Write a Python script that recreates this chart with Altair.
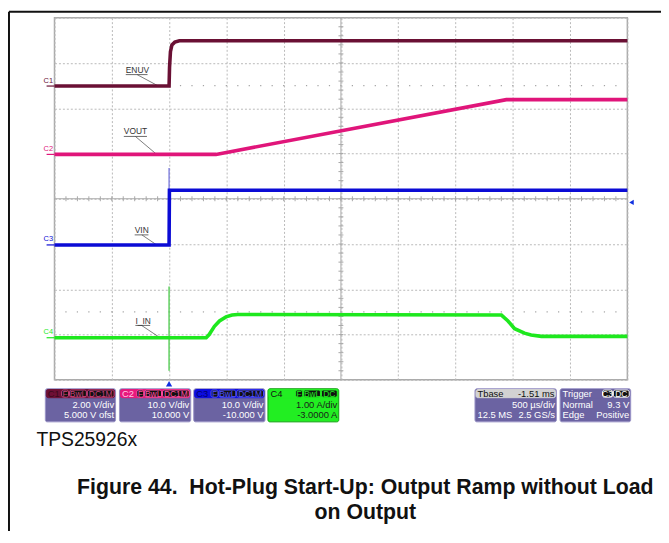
import altair as alt
import pandas as pd
import numpy as np

# ---------------- trace data: time in ms from trigger, level in divisions ----------------
enuv_t = [-1.0, 0.0, 0.004, 0.012, 0.025, 0.05, 0.09, 4.0]
enuv_v = [2.49, 2.49, 2.90, 3.25, 3.40, 3.46, 3.49, 3.49]

vout_t = [-1.0, 0.41, 2.944, 4.0]
vout_v = [0.98, 0.98, 2.19, 2.19]

vin_t = [-1.0, 0.0, 0.003, 4.0]
vin_v = [-1.02, -1.02, 0.19, 0.19]

iin_t = [-1.0, 0.324, 0.35, 0.396, 0.44, 0.497, 0.55, 0.60, 2.901, 2.958, 3.016, 3.102, 3.160, 3.25, 4.0]
iin_v = [-3.07, -3.07, -3.00, -2.82, -2.70, -2.61, -2.57, -2.557, -2.57, -2.70, -2.87, -2.97, -3.01, -3.04, -3.04]

series_names = ["ENUV", "VOUT", "VIN", "I_IN"]
series_colors = ["#6a1034", "#e0157a", "#0b0bd5", "#1ee81e"]

# channel reference levels (divisions) and labels
marker_names = ["C1", "C2", "C3", "C4"]
marker_levels = [2.49, 0.98, -1.02, -3.07]

# grid values
x_grid = [-1.0, -0.5, 0.0, 0.5, 1.0, 1.5, 2.0, 2.5, 3.0, 3.5, 4.0]
y_grid = [-4, -3, -2, -1, 0, 1, 2, 3, 4]

# info boxes
box_names = ["C1", "C2", "C3", "C4", "Tbase", "Trigger"]
box_left = [-1.080, -0.433, 0.215, 0.863, 2.670, 3.413]
box_right = [-0.467, 0.189, 0.837, 1.481, 3.381, 4.029]
box_body = ["#6b63a2", "#6b63a2", "#6b63a2", "#22ee22", "#6b63a2", "#6b63a2"]
box_edge = ["#9a94c6", "#9a94c6", "#9a94c6", "#11a011", "#9a94c6", "#9a94c6"]
box_head = ["#6e0f35", "#e8197d", "#0c0ce0", "#22ee22", "#d2d2d2", "#6b63a2"]
box_head_text = ["#3a0a1c", "#ffc6e2", "#00006e", "#111111", "#111111", "#ffffff"]
box_head_right = ["", "", "", "", "-1.51 ms", ""]
box_badges = [["F", "BwL", "DC1M"], ["F", "BwL", "DC1M"], ["F", "BwL", "DC1M"],
              ["F", "BwL", "DC"], [], ["C3", "DC"]]
badge_text_col = ["#c8407a", "#ff4fa2", "#5050ff", "#22ee22", "#ffffff", "#ffffff"]
box_l1_left = ["", "", "", "", "", "Normal"]
box_l1_right = ["2.00 V/div", "10.0 V/div", "10.0 V/div", "1.00 A/div", "500 µs/div", "9.3 V"]
box_l2_left = ["", "", "", "", "12.5 MS", "Edge"]
box_l2_right = ["5.000 V ofst", "10.000 V", "-10.000 V", "-3.0000 A", "2.5 GS/s", "Positive"]
box_text_col = ["#ffffff", "#ffffff", "#ffffff", "#1a1a1a", "#ffffff", "#ffffff"]
badge_width_px = {"F": 7, "BwL": 17, "DC1M": 27, "DC": 16, "C3": 10}

FONT = "Liberation Sans, Arial, sans-serif"
PX = 0.5 / 57.9      # one pixel in ms
PY = 1 / 45.75       # one pixel in divisions

BOX_TOP, BOX_BOT = -4.197, -4.929
HDR_TOP, HDR_BOT = -4.215, -4.395
ROW_H, ROW_1, ROW_2 = -4.305, -4.557, -4.787

XS = alt.Scale(domain=[-1, 4], nice=False, zero=False)
YS = alt.Scale(domain=[-4, 4], nice=False, zero=False)
XAX = alt.Axis(values=x_grid, grid=True, gridDash=[2, 2], gridColor="#b9b9b9", gridWidth=1,
               labels=False, ticks=False, domain=False, title=None)
YAX = alt.Axis(values=y_grid, grid=True, gridDash=[2, 2], gridColor="#b9b9b9", gridWidth=1,
               labels=False, ticks=False, domain=False, title=None)


def X(f="t"):
    return alt.X(f"{f}:Q", scale=XS, axis=XAX)


def Y(f="v"):
    return alt.Y(f"{f}:Q", scale=YS, axis=YAX)


# ---------------- build tables ----------------
rows = []
for name, ts, vs in zip(series_names, [enuv_t, vout_t, vin_t, iin_t], [enuv_v, vout_v, vin_v, iin_v]):
    for i, (t, v) in enumerate(zip(ts, vs)):
        rows.append({"series": name, "t": t, "v": v, "i": i})
traces = pd.DataFrame(rows)

# rules: (t, t2, v, v2, col, w)
rules = []
# center graticule lines
rules.append(dict(t=1.5, t2=1.5, v=-4, v2=4, col="#a8a8a8", w=1))
rules.append(dict(t=-1, t2=4, v=0, v2=0, col="#a8a8a8", w=1))
for tt in np.arange(-0.9, 4.0, 0.1):
    rules.append(dict(t=tt, t2=tt, v=-2.5 * PY, v2=2.5 * PY, col="#a8a8a8", w=1))
for vv in np.arange(-3.8, 4.0, 0.2):
    rules.append(dict(t=1.5 - 2.5 * PX, t2=1.5 + 2.5 * PX, v=vv, v2=vv, col="#a8a8a8", w=1))
# trigger spikes
rules.append(dict(t=0.0, t2=0.0, v=0.68, v2=-1.02, col="#6a6ad8", w=1.2))
rules.append(dict(t=0.0, t2=0.0, v=-1.94, v2=-3.80, col="#5fcf5f", w=1.5))
# channel markers
for lvl, col in zip(marker_levels, series_colors):
    rules.append(dict(t=-1 - 8 * PX, t2=-1.0, v=lvl, v2=lvl, col=col, w=1.2))
# label underlines and leaders
lab_col = "#444444"
label_geo = [  # text, text_t, text_v, under_t0, under_t1, under_v, lead_t0, lead_t1, lead_v1
    ("ENUV", -0.378, 2.835, -0.378, -0.188, 2.743, -0.279, -0.093, 2.49),
    ("VOUT", -0.395, 1.486, -0.395, -0.193, 1.377, -0.294, -0.108, 0.98),
    ("VIN", -0.300, -0.700, -0.300, -0.180, -0.798, -0.237, -0.108, -1.02),
    ("I_IN", -0.294, -2.704, -0.294, -0.165, -2.798, -0.240, -0.079, -3.07),
]
for g in label_geo:
    rules.append(dict(t=g[3], t2=g[4], v=g[5], v2=g[5], col=lab_col, w=0.8))
    rules.append(dict(t=g[6], t2=g[7], v=g[5], v2=g[8], col=lab_col, w=0.7))
# outer frame
rules.append(dict(t=-1 - 46 * PX, t2=4.5, v=4 + 6 * PY, v2=4 + 6 * PY, col="#111111", w=2))
rules.append(dict(t=-1 - 46 * PX, t2=-1 - 46 * PX, v=4 + 6 * PY, v2=-8, col="#111111", w=2))
rules = pd.DataFrame(rules)

# dotted rows at +/-2.5 div
dots = pd.DataFrame([dict(t=tt, v=vv) for vv in (2.5, -2.5) for tt in np.arange(-0.9, 4.0, 0.1)])

# rects
rects = []
texts = []  # t, v, text, col, size, align, baseline, weight
for k, name in enumerate(box_names):
    t0, t1 = box_left[k], box_right[k]
    rects.append(dict(t=t0, t2=t1, v=BOX_TOP, v2=BOX_BOT, fill=box_body[k], stroke=box_edge[k], layer=0))
    rects.append(dict(t=t0 + PX, t2=t1 - PX, v=HDR_TOP, v2=HDR_BOT, fill=box_head[k], stroke=box_head[k], layer=1))
    texts.append(dict(t=t0 + 2.5 * PX, v=ROW_H, text=name, col=box_head_text[k], size=9.5,
                      align="left", baseline="middle", weight="normal"))
    if box_head_right[k]:
        texts.append(dict(t=t1 - 2 * PX, v=ROW_H, text=box_head_right[k], col=box_head_text[k], size=9.5,
                          align="right", baseline="middle", weight="normal"))
    x = t1 - 1.5 * PX
    for b in reversed(box_badges[k]):
        w = badge_width_px[b] * PX
        rects.append(dict(t=x - w, t2=x, v=HDR_TOP - 0.5 * PY, v2=HDR_BOT + 0.5 * PY, fill="#111111",
                          stroke=badge_text_col[k], layer=2))
        texts.append(dict(t=x - w / 2, v=ROW_H, text=b, col=badge_text_col[k], size=8.5,
                          align="center", baseline="middle", weight="normal"))
        x -= w + PX
    for txt, row, al in [(box_l1_left[k], ROW_1, "left"), (box_l1_right[k], ROW_1, "right"),
                         (box_l2_left[k], ROW_2, "left"), (box_l2_right[k], ROW_2, "right")]:
        if txt:
            tt = t0 + 2.5 * PX if al == "left" else t1 - 1.5 * PX
            texts.append(dict(t=tt, v=row, text=txt, col=box_text_col[k], size=9.5,
                              align=al, baseline="middle", weight="normal"))
rects = pd.DataFrame(rects)

# trace labels and channel markers
for g in label_geo:
    texts.append(dict(t=g[1], v=g[2], text=g[0], col="#333333", size=8.5, align="left",
                      baseline="middle", weight="normal"))
for name, lvl, col in zip(marker_names, marker_levels, series_colors):
    texts.append(dict(t=-1 - 6.3 * PX, v=lvl + 0.12, text=name, col=col, size=7.5, align="center",
                      baseline="middle", weight="normal"))
# captions
texts.append(dict(t=-1.158, v=-5.47, text="TPS25926x", col="#111111", size=19.5, align="left",
                  baseline="alphabetic", weight="normal"))
texts.append(dict(t=1.713, v=-6.525, text="Figure 44.\u00a0 Hot-Plug Start-Up: Output Ramp without Load",
                  col="#111111", size=21.5, align="center", baseline="alphabetic", weight="bold"))
texts.append(dict(t=1.713, v=-7.08, text="on Output", col="#111111", size=21.5, align="center",
                  baseline="alphabetic", weight="bold"))
texts = pd.DataFrame(texts)

markers = pd.DataFrame([
    dict(t=0.0, v=-4.087, shape="triangle-up", col="#1030e0", size=40),
    dict(t=4.036, v=-0.08, shape="triangle-left", col="#1030e0", size=28),
])

# ---------------- layers ----------------
rule_layer = alt.Chart(rules).mark_rule().encode(
    x=X(), x2="t2:Q", y=Y(), y2="v2:Q",
    color=alt.Color("col:N", scale=None),
    strokeWidth=alt.StrokeWidth("w:Q", scale=None),
)
dot_layer = alt.Chart(dots).mark_square(size=1.5, color="#9a9a9a", opacity=0.9).encode(x=X(), y=Y())

trace_layer = alt.Chart(traces).mark_line(strokeWidth=3.6, strokeCap="butt").encode(
    x=X(), y=Y(),
    color=alt.Color("series:N", scale=alt.Scale(domain=series_names, range=series_colors), legend=None),
    order="i:Q",
)

rect_layers = []
for lay in (0, 1, 2):
    sub = rects[rects.layer == lay]
    rect_layers.append(
        alt.Chart(sub).mark_rect(cornerRadius=2, strokeWidth=1).encode(
            x=X(), x2="t2:Q", y=Y(), y2="v2:Q",
            fill=alt.Fill("fill:N", scale=None),
            stroke=alt.Stroke("stroke:N", scale=None),
        )
    )

text_layers = []
for (al, bl, wt), sub in texts.groupby(["align", "baseline", "weight"]):
    text_layers.append(
        alt.Chart(sub).mark_text(align=al, baseline=bl, fontWeight=wt, font=FONT).encode(
            x=X(), y=Y(), text="text:N",
            color=alt.Color("col:N", scale=None),
            size=alt.Size("size:Q", scale=None),
        )
    )

marker_layer = alt.Chart(markers).mark_point(filled=True, opacity=1).encode(
    x=X(), y=Y(),
    shape=alt.Shape("shape:N", scale=None),
    color=alt.Color("col:N", scale=None),
    size=alt.Size("size:Q", scale=None),
)

chart = alt.layer(
    dot_layer, rule_layer, trace_layer, marker_layer, *rect_layers, *text_layers
).resolve_scale(color="independent", size="independent").properties(
    width=579, height=366,
    autosize=alt.AutoSizeParams(type="none"),
    padding={"left": 47, "top": 7, "right": 34, "bottom": 150},
    background="white",
).configure_view(stroke="#aaaaaa", strokeWidth=1.5)

chart.save("out.html", embed_options={"renderer": "svg", "actions": False})
